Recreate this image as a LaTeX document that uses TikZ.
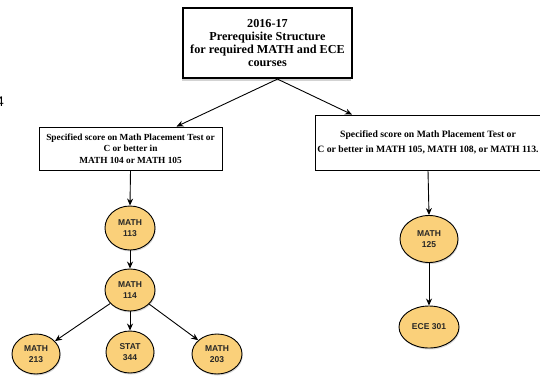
\documentclass[tikz,border=0pt]{standalone}
\usepackage{fontspec}
\setmainfont{Liberation Serif}
\newfontfamily\nodesans{Liberation Sans}
\usetikzlibrary{shapes.geometric,shadows,arrows.meta}
\definecolor{nodeorange}{RGB}{250,208,122}
\tikzset{
  titlebox/.style={draw, line width=2.2pt, fill=white, align=center, inner sep=0pt,
    font=\fontsize{12.2}{13.3}\selectfont\bfseries,
    drop shadow={opacity=0.35, shadow xshift=-1pt, shadow yshift=-2.5pt}},
  condbox/.style={draw, line width=0.9pt, fill=white, align=center, inner sep=0pt,
    font=\fontsize{9.3}{11.7}\selectfont\bfseries},
  course/.style={ellipse, draw, line width=0.9pt, fill=nodeorange, inner sep=0pt,
    align=center, text=black!85, font=\nodesans\fontsize{8.5}{11}\selectfont\bfseries,
    drop shadow={opacity=0.3, shadow xshift=0.8pt, shadow yshift=-1.5pt}},
  arr/.style={-{Stealth[length=7pt,width=6pt]}, line width=0.9pt},
}
\begin{document}
\begin{tikzpicture}[x=1pt,y=-1pt]
\useasboundingbox (0,0) rectangle (540,375);
\node (stray) [anchor=east, font=\nodesans\fontsize{14}{16}\selectfont, inner sep=0pt] at (4,102) {4};
\node (title) [titlebox, minimum width=169pt, minimum height=70pt] at (267.5,43)
  {2016-17\\Prerequisite Structure\\for required MATH and ECE\\courses};
\node (lbox) [condbox, minimum width=183pt, minimum height=43pt] at (130.5,148.5)
  {Specified score on Math Placement Test or\\C or better in\\MATH 104 or MATH 105};
\node (rbox) [condbox, font=\fontsize{9.7}{15}\selectfont\bfseries, minimum width=226pt, minimum height=55pt] at (428,142.5)
  {Specified score on Math Placement Test or\\C or better in MATH 105, MATH 108, or MATH 113.};
\node (m113) [course, minimum width=50pt, minimum height=44pt] at (130,228) {MATH\\113};
\node (m114) [course, minimum width=50pt, minimum height=42pt] at (130,290) {MATH\\114};
\node (m213) [course, minimum width=48pt, minimum height=40pt] at (36,354) {MATH\\213};
\node (s344) [course, minimum width=48pt, minimum height=42pt] at (130,352) {STAT\\344};
\node (m203) [course, minimum width=50pt, minimum height=40pt] at (217,354) {MATH\\203};
\node (m125) [course, minimum width=58pt, minimum height=47pt] at (429,239) {MATH\\125};
\node (e301) [course, minimum width=60pt, minimum height=42pt] at (429,327) {ECE 301};
\draw[arr] ([xshift=10pt]title.south) -- ([xshift=46pt]lbox.north);
\draw[arr] ([xshift=10pt]title.south) -- ([xshift=-76pt]rbox.north);
\draw[arr] (lbox.south) -- (m113.north);
\draw[arr] (m113.south) -- (m114.north);
\draw[arr] (m114) -- (m213);
\draw[arr] (m114) -- (s344);
\draw[arr] (m114) -- (m203);
\draw[arr] (rbox.south) -- (m125.north);
\draw[arr] (m125.south) -- (e301.north);
\end{tikzpicture}
\end{document}
